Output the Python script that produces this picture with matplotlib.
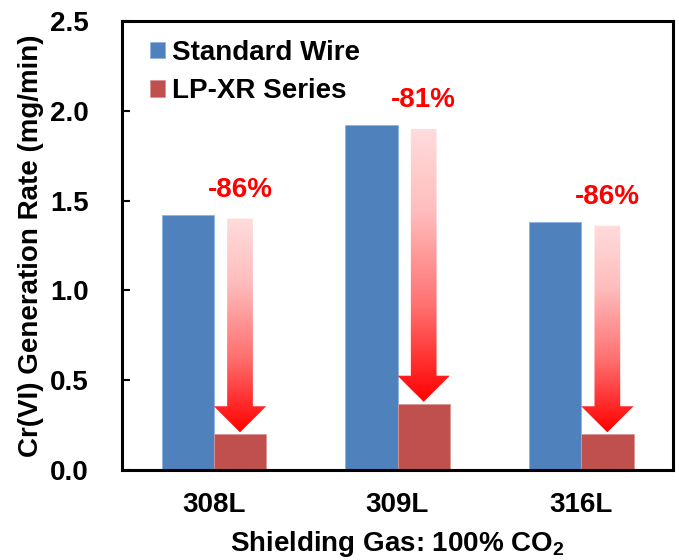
import numpy as np
import matplotlib.pyplot as plt
from matplotlib.patches import Polygon
from matplotlib.colors import LinearSegmentedColormap

plt.rcParams['font.family'] = ['Liberation Sans', 'DejaVu Sans']
plt.rcParams['font.weight'] = 'bold'
plt.rcParams['mathtext.fontset'] = 'custom'
plt.rcParams['mathtext.rm'] = 'Liberation Sans:bold'
plt.rcParams['mathtext.bf'] = 'Liberation Sans:bold'

categories = ['308L', '309L', '316L']
standard = [1.42, 1.92, 1.38]
lpxr = [0.20, 0.37, 0.20]
reductions = ['-86%', '-81%', '-86%']
yticks = [0.0, 0.5, 1.0, 1.5, 2.0, 2.5]

fig = plt.figure(figsize=(6.79, 5.60), dpi=100)
ax = fig.add_axes([0.1797, 0.1607, 0.8115, 0.8018])

x = np.arange(len(categories))
w = 0.285
b1 = ax.bar(x - w / 2, standard, w, color='#4F81BD', edgecolor='#8EB4E3', linewidth=0.6,
            label='Standard Wire', zorder=2)
b2 = ax.bar(x + w / 2, lpxr, w, color='#C0504D', edgecolor='#D99694', linewidth=0.6,
            label='LP-XR Series', zorder=2)

# gradient arrows from the standard bar level down to the LP-XR bar
cmap = LinearSegmentedColormap.from_list('arr', [(0, '#FF0000'), (0.35, '#FF7070'),
                                                 (0.7, '#FFBDBD'), (1, '#FFDCDC')])
grad = np.linspace(0, 1, 256).reshape(-1, 1)
shaft = 0.07
head_h = 0.145
for i in range(len(categories)):
    cx = x[i] + w / 2
    top = standard[i] - 0.02
    tip = lpxr[i] + 0.01
    base = tip + head_h
    pts = [(cx - shaft, top), (cx + shaft, top), (cx + shaft, base), (cx + w / 2, base),
           (cx, tip), (cx - w / 2, base), (cx - shaft, base)]
    poly = Polygon(pts, closed=True, facecolor='none', edgecolor='none')
    ax.add_patch(poly)
    im = ax.imshow(grad, cmap=cmap, extent=[cx - w / 2, cx + w / 2, tip, top],
                   origin='lower', aspect='auto', zorder=3, interpolation='bilinear')
    im.set_clip_path(poly)
    ax.text(cx, top + 0.16, reductions[i], color='#FF0000', fontsize=20,
            fontweight='bold', ha='center', va='center', zorder=4)

ax.set_xlim(-0.5, 2.5)
ax.set_ylim(0, 2.5)
ax.set_yticks(yticks)
ax.set_yticklabels([f'{v:.1f}' for v in yticks])
ax.set_xticks(x)
ax.set_xticklabels(categories)
ax.tick_params(axis='y', direction='in', length=6, width=1.5, pad=24, labelsize=20)
ax.tick_params(axis='x', length=0, pad=16, labelsize=20)
for s in ax.spines.values():
    s.set_linewidth(2.2)

ax.set_ylabel('Cr(VI) Generation Rate (mg/min)', fontsize=20, fontweight='bold', labelpad=4)
ax.set_xlabel(r'Shielding Gas: 100% CO$_{\mathbf{2}}$', fontsize=20, fontweight='bold', labelpad=8)

ax.legend(handles=[b1, b2], loc='upper left', bbox_to_anchor=(0.02, 0.995), frameon=False,
          fontsize=20, handlelength=0.55, handleheight=0.55, handletextpad=0.25,
          labelspacing=0.45, borderaxespad=0.2)

fig.savefig('out.png', dpi=100)
